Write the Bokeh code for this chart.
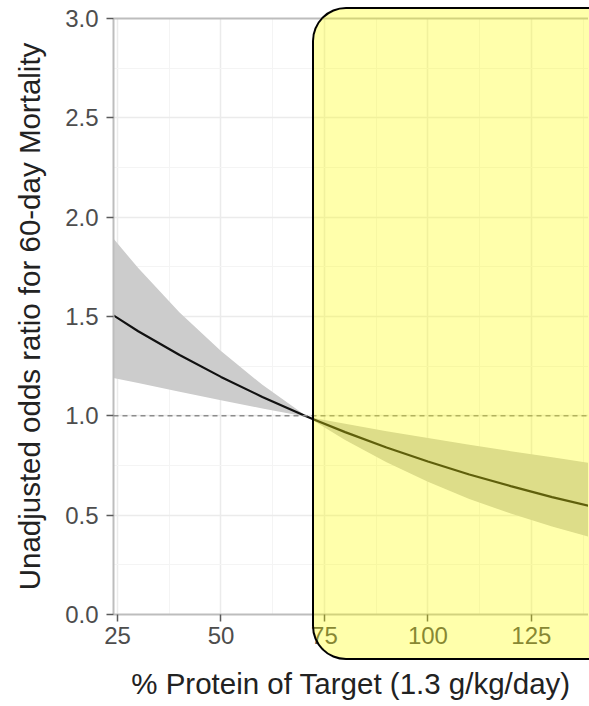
from bokeh.plotting import figure
from bokeh.models import (Span, FixedTicker, PrintfTickFormatter, Div, LinearAxis,
                          Range1d, ColumnDataSource, GridBox)
from bokeh.embed import file_html
from bokeh.resources import INLINE

# ---- data ----
X_PCT = [24.0, 30, 40, 50, 60, 70, 71, 72, 80, 90, 100, 110, 120, 130, 139]
OR_FIT = [1.506, 1.426, 1.306, 1.196, 1.095, 1.003, 0.994, 0.985, 0.918, 0.841,
          0.770, 0.705, 0.646, 0.591, 0.546]
OR_UPPER = [1.892, 1.744, 1.520, 1.326, 1.156, 1.008, 0.994, 0.990, 0.960, 0.923,
            0.888, 0.855, 0.822, 0.791, 0.763]
OR_LOWER = [1.191, 1.165, 1.121, 1.078, 1.037, 0.998, 0.994, 0.980, 0.878, 0.766,
            0.668, 0.582, 0.508, 0.443, 0.391]
REF_OR = 1.0
HIGHLIGHT_FROM = 72.2

X_TICKS = [25, 50, 75, 100, 125]
X_MINOR = [37.5, 62.5, 87.5, 112.5, 137.5]
Y_TICKS = [0.0, 0.5, 1.0, 1.5, 2.0, 2.5, 3.0]
Y_MINOR = [0.25, 0.75, 1.25, 1.75, 2.25, 2.75]

X_TITLE = "% Protein of Target (1.3 g/kg/day)"
Y_TITLE = "Unadjusted odds ratio for 60-day Mortality"

src = ColumnDataSource(dict(x=X_PCT, fit=OR_FIT, up=OR_UPPER, lo=OR_LOWER))

FONT = "Liberation Sans"
W, H = 588, 702
BORDER_L, BORDER_T, BORDER_B = 113, 18, 87
X0, X1 = 24.03, 138.8
PANEL_LINE = "#bdbdbd"

p = figure(width=W, height=H, output_backend="svg", toolbar_location=None,
           x_range=Range1d(X0, X1), y_range=Range1d(0, 3),
           min_border_left=BORDER_L, min_border_right=0, min_border_top=BORDER_T,
           min_border_bottom=BORDER_B)
p.background_fill_color = "white"
p.border_fill_color = "white"
p.outline_line_color = None   # panel continues past the right edge in the reference

# ribbon + fitted line
p.varea(x="x", y1="lo", y2="up", source=src, fill_color="#cccccc", fill_alpha=1.0)
p.line(x="x", y="fit", source=src, line_color="#111111", line_width=2.2)

# reference line
p.add_layout(Span(location=REF_OR, dimension="width", line_color="#8c8c8c",
                  line_width=1.5, line_dash="5 4"))

# axes styling
for ax, ticks, minor in ((p.xaxis[0], X_TICKS, X_MINOR), (p.yaxis[0], Y_TICKS, Y_MINOR)):
    ax.ticker = FixedTicker(ticks=ticks, minor_ticks=minor)
    ax.axis_line_color = PANEL_LINE
    ax.axis_line_width = 2
    ax.major_tick_line_color = "#5a5a5a"
    ax.major_tick_line_width = 1.5
    ax.major_tick_out = 7
    ax.major_tick_in = 0
    ax.minor_tick_out = 0
    ax.minor_tick_in = 0
    ax.major_label_text_font = FONT
    ax.major_label_text_font_size = "24px"
    ax.major_label_text_color = "#4d4d4d"
    ax.axis_label_text_font = FONT
    ax.axis_label_text_font_size = "29.5px"
    ax.axis_label_text_font_style = "normal"
    ax.axis_label_text_color = "#222222"

p.yaxis[0].formatter = PrintfTickFormatter(format="%.1f")
p.xaxis[0].axis_label = X_TITLE
p.yaxis[0].axis_label = Y_TITLE
p.xaxis[0].major_label_standoff = 5
p.yaxis[0].major_label_standoff = 8
p.xaxis[0].axis_label_standoff = 20
p.yaxis[0].axis_label_standoff = 16

# top panel border only (no ticks / labels)
p.add_layout(LinearAxis(ticker=FixedTicker(ticks=[]), axis_line_color=PANEL_LINE,
                        axis_line_width=2, major_tick_out=0, major_tick_in=0,
                        minor_tick_out=0, minor_tick_in=0,
                        major_label_text_font_size="0px"), "above")

for g in (p.xgrid[0], p.ygrid[0]):
    g.grid_line_color = "#ebebeb"
    g.grid_line_width = 1.5
    g.minor_grid_line_color = "#f4f4f4"
    g.minor_grid_line_width = 1

# ---- highlighted region: rounded yellow box laid over the plot (and its axis) ----
px_per_unit = (W - BORDER_L) / (X1 - X0)
box_left = int(round(BORDER_L + (HIGHLIGHT_FROM - X0) * px_per_unit))
box_top, box_bottom = 7, 660
box = Div(text="", width=W + 1 - box_left, height=box_bottom - box_top,
          margin=(box_top, 0, 0, box_left),
          styles={"background-color": "rgba(255, 255, 0, 0.33)",
                  "border": "2px solid black", "border-right": "none",
                  "border-radius": "34px 0 0 34px",
                  "box-sizing": "border-box",
                  "pointer-events": "none"})

layout = GridBox(children=[(p, 0, 0), (box, 0, 0)])

open("out.html", "w").write(file_html(layout, INLINE))
